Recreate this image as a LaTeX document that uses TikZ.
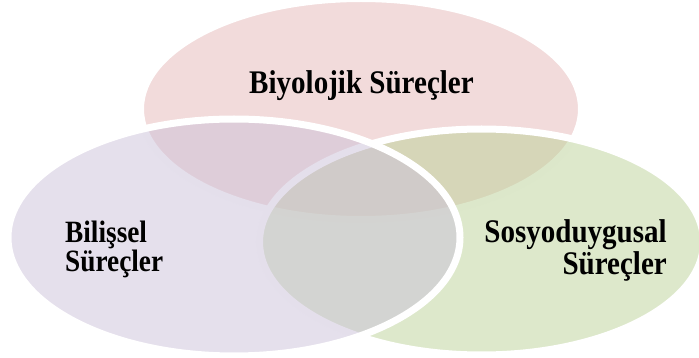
\documentclass[tikz,border=0pt]{standalone}
\usepackage{fontspec}
\newfontfamily\vennfont[FakeStretch=0.88]{Liberation Serif}
\definecolor{bioFill}{RGB}{229,183,183}
\definecolor{cogFill}{RGB}{203,193,217}
\definecolor{socFill}{RGB}{187,209,151}
\tikzset{
  venn/.style={draw=white, line width=7pt, fill opacity=0.5},
  biglabel/.style={inner sep=0pt, font=\vennfont\bfseries\fontsize{33}{29}\selectfont},
  smalllabel/.style={inner sep=0pt, font=\vennfont\bfseries\fontsize{31}{29}\selectfont}
}
\begin{document}
\begin{tikzpicture}[x=1pt, y=-1pt]
  \useasboundingbox (0,0) rectangle (699,358);
  % three overlapping process circles: biological at the back, cognitive in front
  \path[venn, fill=bioFill] (361,109) ellipse [x radius=220.5pt, y radius=110.5pt];
  \path[venn, fill=socFill] (481.5,242) ellipse [x radius=222pt, y radius=113pt];
  \path[venn, fill=cogFill] (234,237.5) ellipse [x radius=226pt, y radius=118.5pt];
  % labels (two-line labels are anchored on the baseline of their last line)
  \node[biglabel, anchor=base] (bio) at (361.5,94) {Biyolojik Süreçler};
  \node[smalllabel, align=left, anchor=base west] (cog) at (65,272) {Bilişsel\\Süreçler};
  \node[biglabel, align=right, anchor=base east] (soc) at (667,274) {Sosyoduygusal\\Süreçler};
\end{tikzpicture}
\end{document}
